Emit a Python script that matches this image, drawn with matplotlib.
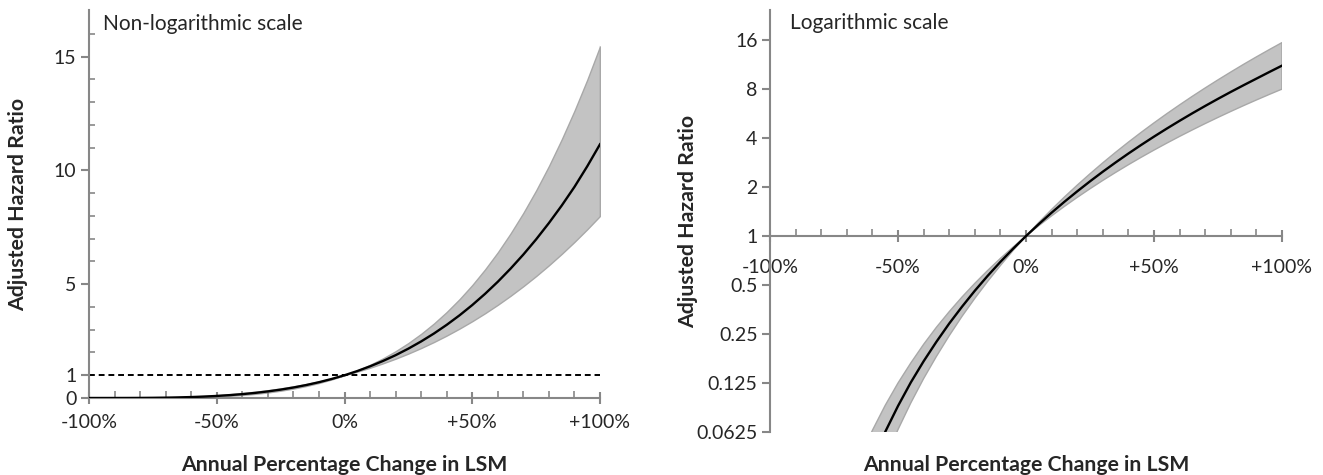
"""Adjusted hazard ratio vs annual change in LSM, linear and log panels"""
import matplotlib
matplotlib.use('Agg')
import matplotlib.pyplot as plt
import numpy as np

plt.rcParams['font.family'] = ['Lato', 'DejaVu Sans']

# annual percentage change in LSM (%)
pct_change = [-100, -95, -90, -85, -80, -75, -70, -65, -60, -55, -50,
              -45, -40, -35, -30, -25, -20, -15, -10, -5, 0,
              5, 10, 15, 20, 25, 30, 35, 40, 45, 50,
              55, 60, 65, 70, 75, 80, 85, 90, 95, 100]
hr_mid = [0, 0.00003, 0.00034, 0.00138, 0.00375, 0.00815, 0.0153, 0.0262, 0.0416, 0.0626, 0.0903,
          0.126, 0.170, 0.224, 0.290, 0.368, 0.461, 0.569, 0.694, 0.837, 1.0,
          1.184, 1.392, 1.624, 1.882, 2.169, 2.486, 2.833, 3.215, 3.631, 4.084,
          4.576, 5.108, 5.685, 6.304, 6.971, 7.688, 8.454, 9.276, 10.18, 11.15]
hr_upper = [0, 0.000125, 0.001, 0.00338, 0.008, 0.0156, 0.027, 0.0429, 0.064, 0.0911, 0.125,
            0.166, 0.216, 0.275, 0.343, 0.422, 0.512, 0.614, 0.729, 0.857, 1.0,
            1.213, 1.457, 1.737, 2.055, 2.414, 2.819, 3.272, 3.778, 4.340, 4.961,
            5.648, 6.401, 7.230, 8.133, 9.119, 10.19, 11.36, 12.62, 13.98, 15.45]
hr_lower = [0, 0.0000073, 0.000112, 0.000556, 0.00173, 0.00418, 0.0086, 0.0158, 0.0268, 0.0427, 0.0647,
            0.0943, 0.133, 0.182, 0.244, 0.321, 0.414, 0.526, 0.659, 0.817, 1.0,
            1.158, 1.331, 1.521, 1.728, 1.953, 2.197, 2.460, 2.744, 3.049, 3.375,
            3.724, 4.096, 4.492, 4.913, 5.359, 5.832, 6.332, 6.859, 7.415, 8.0]

x_ticks = [-100, -50, 0, 50, 100]
x_ticklabels = ['-100%', '-50%', '0%', '+50%', '+100%']
lin_yticks = [0, 1, 5, 10, 15]
log_yticks = [0.0625, 0.125, 0.25, 0.5, 1, 2, 4, 8, 16]
log_yticklabels = ['0.0625', '0.125', '0.25', '0.5', '1', '2', '4', '8', '16']

SPINE = '#878787'
TEXT = '#262626'
BAND = '#c3c3c3'
BAND_EDGE = '#a8a8a8'
TICK_FS = 14
LABEL_FS = 15.3

x = np.array(pct_change)
mid = np.array(hr_mid)
up = np.array(hr_upper)
lo = np.array(hr_lower)

fig = plt.figure(figsize=(13.23, 4.75), dpi=100)
ax1 = fig.add_axes([89 / 1323, 77 / 475, 511 / 1323, 388 / 475])
ax2 = fig.add_axes([770 / 1323, 43 / 475, 512 / 1323, 422 / 475])


def style_axes(ax):
    for side in ('top', 'right'):
        ax.spines[side].set_visible(False)
    for side in ('left', 'bottom'):
        ax.spines[side].set_color(SPINE)
        ax.spines[side].set_linewidth(1.5)
    ax.set_xlim(-100, 100)
    ax.set_xticks(x_ticks, x_ticklabels)
    ax.set_xticks(np.arange(-90, 100, 10), minor=True)
    ax.tick_params(axis='x', which='major', direction='inout', length=9, width=1.5,
                   color=SPINE, labelsize=TICK_FS, labelcolor=TEXT)
    ax.tick_params(axis='x', which='minor', direction='in', length=5, width=1.2, color=SPINE)
    ax.tick_params(axis='y', which='major', direction='out', length=6, width=1.5,
                   color=SPINE, labelsize=TICK_FS, labelcolor=TEXT, pad=3)
    ax.set_xlabel('Annual Percentage Change in LSM', fontsize=LABEL_FS, fontweight='bold', color=TEXT)
    ax.set_ylabel('Adjusted Hazard Ratio', fontsize=LABEL_FS, fontweight='bold', color=TEXT)
    ax.xaxis.label.set_va('center')
    ax.yaxis.label.set_va('center')


# non-logarithmic panel
style_axes(ax1)
ax1.fill_between(x, lo, up, facecolor=BAND, edgecolor=BAND_EDGE, lw=1, zorder=1)
ax1.plot([x[-1], x[-1]], [lo[-1], up[-1]], color=BAND_EDGE, lw=1, zorder=1)
ax1.plot(x, mid, color='black', lw=1.7, zorder=3)
ax1.axhline(1, color='black', lw=1.4, ls=(0, (3, 2)), zorder=2)
ax1.set_ylim(0, 17.05)
ax1.set_yticks(lin_yticks)
ax1.set_yticks(np.arange(2, 17, 1), minor=True)
ax1.tick_params(axis='y', which='minor', direction='in', length=4, width=1.2, color=SPINE)
ax1.tick_params(axis='x', which='major', pad=7)
ax1.xaxis.set_label_coords(0.5, -67 / 388)
ax1.yaxis.set_label_coords(-71 / 511, 0.5)
ax1.text(14 / 511, 0.965, 'Non-logarithmic scale', transform=ax1.transAxes,
         fontsize=15, color=TEXT, va='center', ha='left')

# logarithmic panel
style_axes(ax2)
keep = x > -100
ax2.set_yscale('log')
ax2.fill_between(x[keep], lo[keep], up[keep], facecolor=BAND, edgecolor=BAND_EDGE, lw=1, zorder=1)
ax2.plot([x[-1], x[-1]], [lo[-1], up[-1]], color=BAND_EDGE, lw=1, zorder=1)
ax2.plot(x[keep], mid[keep], color='black', lw=1.7, zorder=3)
ax2.set_ylim(0.0625, 24.5)
ax2.set_yticks(log_yticks, log_yticklabels)
ax2.yaxis.set_minor_locator(matplotlib.ticker.NullLocator())
ax2.spines['bottom'].set_position(('data', 1))
ax2.tick_params(axis='x', which='major', pad=12)
ax2.xaxis.set_label_coords(0.5, -33 / 422)
ax2.yaxis.set_label_coords(-82 / 512, 0.5)
ax2.text(20 / 512, 0.97, 'Logarithmic scale', transform=ax2.transAxes,
         fontsize=15, color=TEXT, va='center', ha='left')

fig.savefig('out.png', dpi=100)
